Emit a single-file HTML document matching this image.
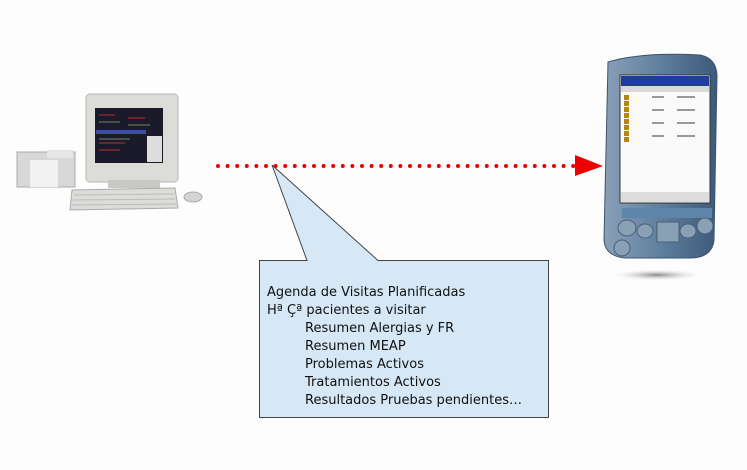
<!DOCTYPE html>
<html><head><style>
body{margin:0;width:747px;height:470px;background:#fdfdfd;overflow:hidden;position:relative;font-family:"DejaVu Sans","Liberation Sans",sans-serif}
.t{position:absolute;font-size:13px;color:#111;white-space:nowrap;letter-spacing:0px}
</style></head><body>
<svg width="747" height="470" style="position:absolute;left:0;top:0">
<defs>
<linearGradient id="pda" x1="0" x2="1"><stop offset="0" stop-color="#8aa0b8"/><stop offset="0.5" stop-color="#5f7f9f"/><stop offset="1" stop-color="#3d5a78"/></linearGradient>
<radialGradient id="sh"><stop offset="0" stop-color="#888"/><stop offset="1" stop-color="#fdfdfd" stop-opacity="0"/></radialGradient>
</defs>
<rect x="17" y="152" width="58" height="35" fill="#d8d8d8" stroke="#aaa"/>
<rect x="30" y="160" width="28" height="27" fill="#f2f2f2"/>
<rect x="47" y="150" width="26" height="8" fill="#e6e6e6"/>
<rect x="86" y="94" width="92" height="88" rx="4" fill="#dcdcd8" stroke="#b5b5b0"/>
<rect x="95" y="108" width="68" height="55" fill="#1a1a2a"/>
<rect x="96" y="130" width="50" height="4" fill="#3a4fa0"/>
<g stroke="#c03030" stroke-width="1"><line x1="99" y1="115" x2="115" y2="115"/><line x1="128" y1="118" x2="145" y2="118"/><line x1="99" y1="143" x2="125" y2="143"/><line x1="99" y1="150" x2="120" y2="150"/></g>
<g stroke="#6a8a6a"><line x1="99" y1="122" x2="120" y2="122"/><line x1="128" y1="125" x2="150" y2="125"/><line x1="99" y1="139" x2="130" y2="139"/></g>
<rect x="147" y="136" width="15" height="26" fill="#ddd"/>
<rect x="108" y="180" width="52" height="8" fill="#c8c8c4"/>
<polygon points="72,190 175,188 178,208 70,210" fill="#dcdcd8" stroke="#aaa"/>
<g stroke="#bbb"><line x1="74" y1="195" x2="174" y2="194"/><line x1="73" y1="200" x2="175" y2="199"/><line x1="72" y1="205" x2="176" y2="204"/></g>
<ellipse cx="193" cy="197" rx="9" ry="5" fill="#d4d4d4" stroke="#aaa"/>
<line x1="218" y1="166" x2="578" y2="166" stroke="#ee0000" stroke-width="4" stroke-linecap="round" stroke-dasharray="0 9.6"/>
<polygon points="575,155 603,166 575,176" fill="#ee0000"/>
<polygon points="259.5,260.5 307,260.5 272,165 378,260.5 548.5,260.5 548.5,417.5 259.5,417.5" fill="#d6e7f6" stroke="#444" stroke-width="1"/>
<ellipse cx="657" cy="275" rx="48" ry="6" fill="url(#sh)"/>
<path d="M608,62 Q640,52 700,55 Q716,58 717,75 L714,240 Q712,258 690,258 L625,258 Q605,256 604,240 Z" fill="url(#pda)" stroke="#3a5470"/>
<rect x="620" y="75" width="90" height="128" fill="#fafafa" stroke="#333"/>
<rect x="621" y="76" width="88" height="10" fill="#1f3d9a"/>
<rect x="621" y="86" width="88" height="6" fill="#d8d8d8"/>
<g fill="#b8860b"><rect x="624" y="95" width="5" height="5"/><rect x="624" y="101" width="5" height="5"/><rect x="624" y="107" width="5" height="5"/><rect x="624" y="113" width="5" height="5"/><rect x="624" y="119" width="5" height="5"/><rect x="624" y="125" width="5" height="5"/><rect x="624" y="131" width="5" height="5"/><rect x="624" y="137" width="5" height="5"/></g>
<g stroke="#777" stroke-width="1.5"><line x1="652" y1="97" x2="664" y2="97"/><line x1="677" y1="97" x2="695" y2="97"/><line x1="652" y1="110" x2="664" y2="110"/><line x1="677" y1="110" x2="695" y2="110"/><line x1="652" y1="123" x2="664" y2="123"/><line x1="677" y1="123" x2="695" y2="123"/><line x1="652" y1="136" x2="664" y2="136"/><line x1="677" y1="136" x2="695" y2="136"/></g>
<rect x="621" y="192" width="88" height="10" fill="#ddd"/>
<rect x="622" y="208" width="90" height="10" fill="#5f86a8"/>
<g fill="#8aa0b5" stroke="#4a6078"><ellipse cx="627" cy="228" rx="9" ry="8"/><ellipse cx="645" cy="231" rx="8" ry="7"/><rect x="657" y="222" width="22" height="20"/><ellipse cx="688" cy="231" rx="8" ry="7"/><ellipse cx="705" cy="226" rx="8" ry="8"/><circle cx="622" cy="248" r="8"/></g>
</svg>
<div class="t" style="left:267px;top:285px">Agenda de Visitas Planificadas</div>
<div class="t" style="left:267px;top:303px">Hª Çª pacientes a visitar</div>
<div class="t" style="left:305px;top:321px">Resumen Alergias y FR</div>
<div class="t" style="left:305px;top:339px">Resumen MEAP</div>
<div class="t" style="left:305px;top:357px">Problemas Activos</div>
<div class="t" style="left:305px;top:375px">Tratamientos Activos</div>
<div class="t" style="left:305px;top:393px">Resultados Pruebas pendientes…</div>
</body></html>
